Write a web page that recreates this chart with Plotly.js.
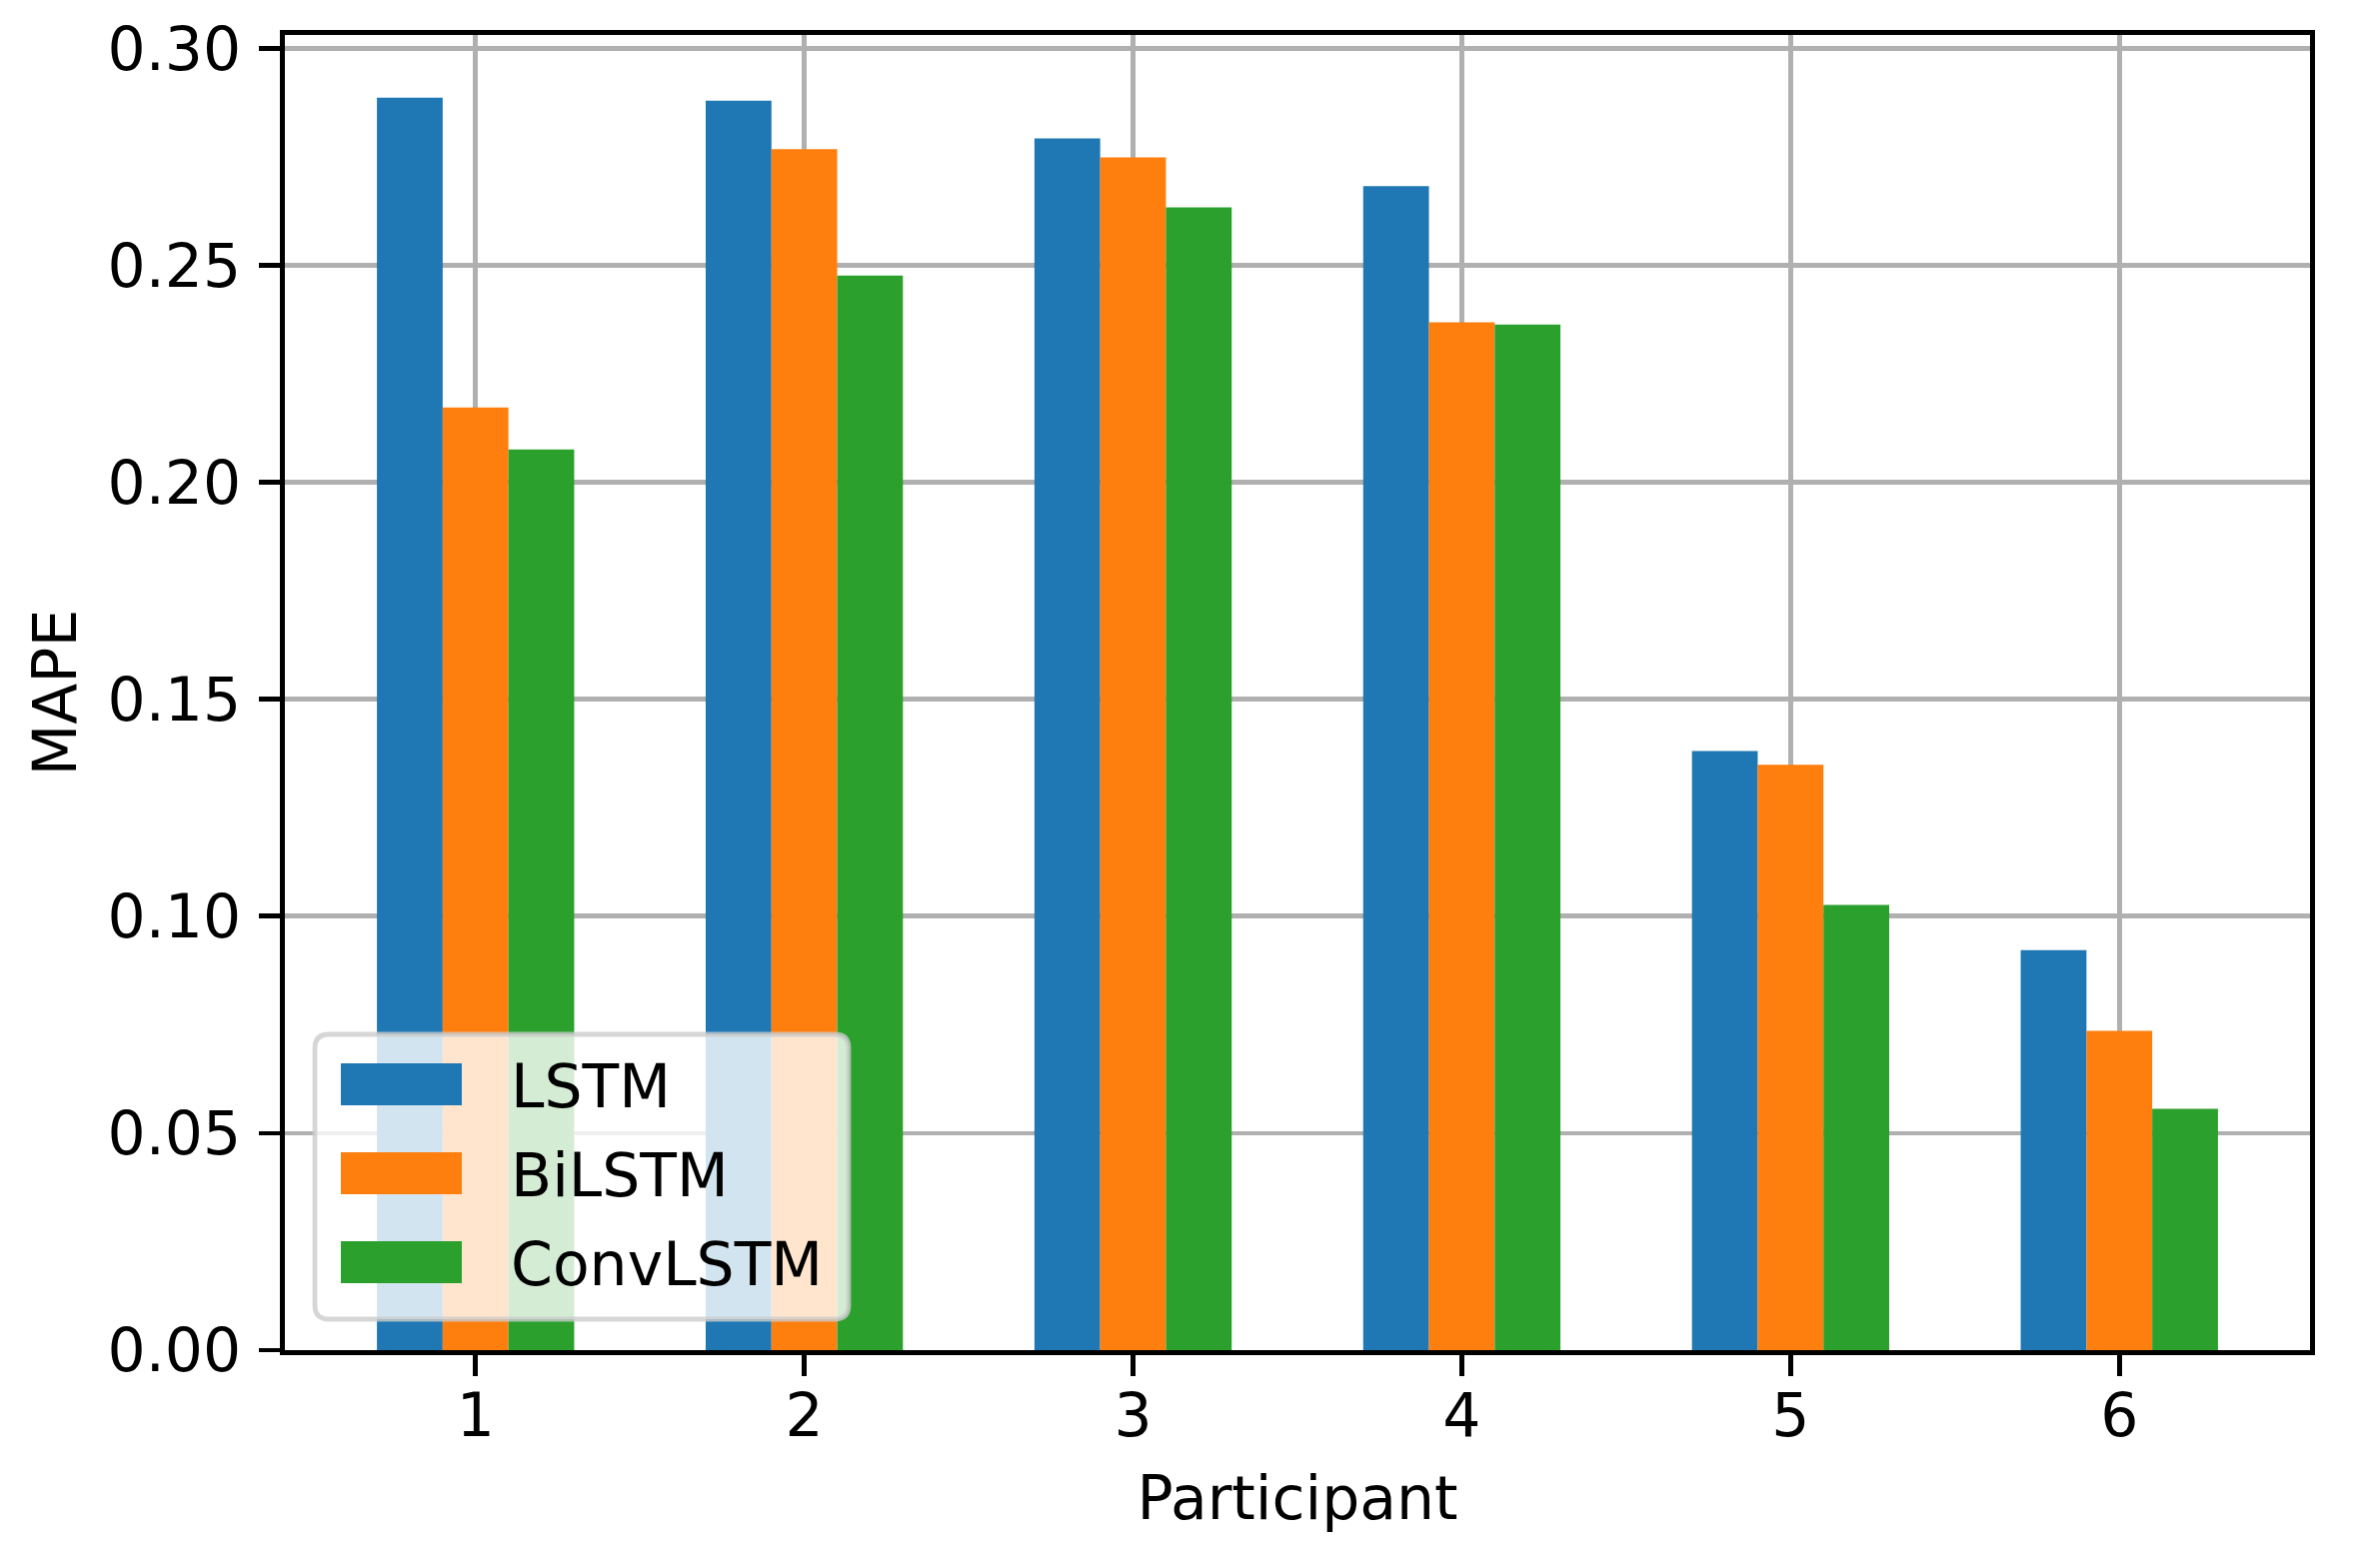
<!DOCTYPE html>
<html>
<head>
<meta charset="utf-8">
<script src="https://cdn.plot.ly/plotly-3.0.1.min.js"></script>
<style>
  html, body { margin: 0; padding: 0; background: #ffffff; }
  #chart { width: 2356px; height: 1569px; }
</style>
</head>
<body>
<div id="chart"></div>
<script>
// ---- data ----
const participants = [1, 2, 3, 4, 5, 6];
const tickLabels = ["1", "2", "3", "4", "5", "6"];
const seriesNames = ["LSTM", "BiLSTM", "ConvLSTM"];
const lstm     = [0.2887, 0.2880, 0.2793, 0.2683, 0.1381, 0.0922];
const bilstm   = [0.2173, 0.2768, 0.2749, 0.2369, 0.1349, 0.0736];
const convlstm = [0.2076, 0.2477, 0.2634, 0.2364, 0.1026, 0.0556];
const colors = ["#1f77b4", "#ff7f0e", "#2ca02c"];
const xTitle = "Participant";
const yTitle = "MAPE";

// ---- layout geometry (pixels) ----
const W = 2356, H = 1569;
const L = 285, R = 2311, T = 35, B = 1351;
const FONT = "DejaVu Sans, Liberation Sans, sans-serif";
const FS = 60;
const LFS = 60;
const LW = 4.8;

const allValues = [lstm, bilstm, convlstm];
const traces = allValues.map((vals, i) => ({
  type: "bar",
  name: seriesNames[i],
  x: participants,
  y: vals,
  marker: { color: colors[i], line: { width: 0 } },
  showlegend: false,
  hoverinfo: "x+y+name"
}));

const ymax = Math.max(...lstm, ...bilstm, ...convlstm) * 1.05;

// pixel -> paper helpers
const px = x => (x - L) / (R - L);
const py = y => (B - y) / (B - T);

function roundRect(x0, y0, x1, y1, r) {
  const a = px(x0), b = px(x1), c = py(y0), d = py(y1);
  const rx = r / (R - L), ry = r / (B - T);
  return `M ${a + rx},${c} L ${b - rx},${c} Q ${b},${c} ${b},${c - ry} ` +
         `L ${b},${d + ry} Q ${b},${d} ${b - rx},${d} L ${a + rx},${d} ` +
         `Q ${a},${d} ${a},${d + ry} L ${a},${c - ry} Q ${a},${c} ${a + rx},${c} Z`;
}

// custom legend (matplotlib style)
const legBox = { x0: 315, y0: 1035, x1: 849, y1: 1320 };
const rowCenters = [1085, 1174, 1263];
const shapes = [{
  type: "path", xref: "paper", yref: "paper", layer: "above",
  path: roundRect(legBox.x0, legBox.y0, legBox.x1, legBox.y1, 14),
  fillcolor: "rgba(255,255,255,0.8)",
  line: { color: "rgba(204,204,204,0.8)", width: LW }
}];
const annotations = [];
seriesNames.forEach((name, i) => {
  const cy = rowCenters[i];
  shapes.push({
    type: "rect", xref: "paper", yref: "paper", layer: "above",
    x0: px(341), x1: px(462), y0: py(cy - 21), y1: py(cy + 21),
    fillcolor: colors[i], line: { width: 0 }
  });
  annotations.push({
    xref: "paper", yref: "paper", x: px(509), y: py(cy + 2),
    xanchor: "left", yanchor: "middle", showarrow: false,
    text: name, font: { family: FONT, size: LFS, color: "#000000" }
  });
});

const layout = {
  width: W, height: H,
  margin: { l: L, r: W - R, t: T, b: H - B, pad: 0 },
  paper_bgcolor: "#ffffff",
  plot_bgcolor: "#ffffff",
  font: { family: FONT, size: FS, color: "#000000" },
  barmode: "group",
  bargap: 0.4,
  bargroupgap: 0,
  xaxis: {
    range: [0.42, 6.58],
    tickmode: "array",
    tickvals: participants,
    ticktext: tickLabels,
    ticks: "outside", ticklen: 21, tickwidth: LW, tickcolor: "#000000",
    showline: true, linecolor: "#000000", linewidth: LW, mirror: true,
    showgrid: true, gridcolor: "#b0b0b0", gridwidth: LW,
    zeroline: false,
    layer: "above traces",
    tickfont: { family: FONT, size: FS, color: "#000000" },
    ticklabelstandoff: -12,
    title: { text: xTitle, font: { family: FONT, size: FS, color: "#000000" }, standoff: 30 },
    automargin: false
  },
  yaxis: {
    range: [0, ymax],
    tickmode: "linear", tick0: 0, dtick: 0.05,
    tickformat: ".2f",
    ticks: "outside", ticklen: 21, tickwidth: LW, tickcolor: "#000000",
    showline: true, linecolor: "#000000", linewidth: LW, mirror: true,
    showgrid: true, gridcolor: "#b0b0b0", gridwidth: LW,
    zeroline: false,
    layer: "above traces",
    tickfont: { family: FONT, size: FS, color: "#000000" },
    ticklabelstandoff: 6,
    title: { text: yTitle, font: { family: FONT, size: FS, color: "#000000" }, standoff: 13 },
    automargin: false
  },
  shapes: shapes,
  annotations: annotations
};

Plotly.newPlot("chart", traces, layout, { displayModeBar: false, staticPlot: true });
</script>
</body>
</html>
